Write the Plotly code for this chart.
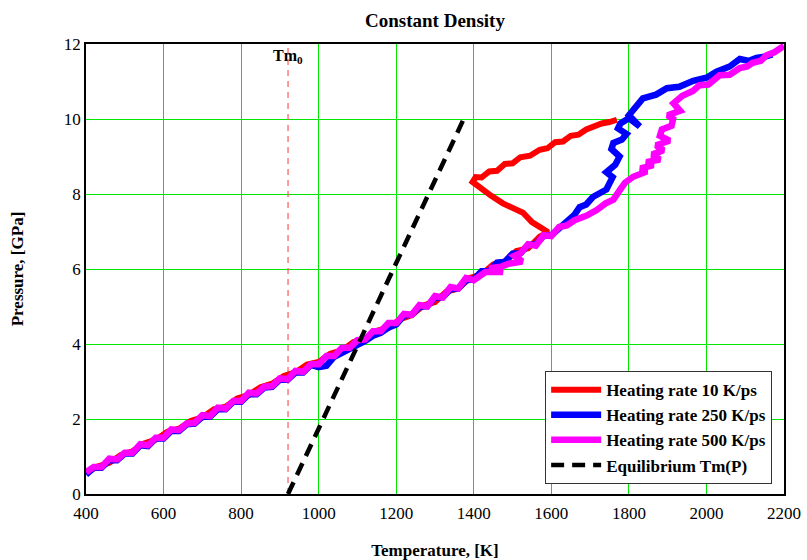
import plotly.graph_objects as go

# ---- data ----
red_T = [400, 430, 460, 490, 520, 550, 580, 610, 640, 670, 700, 730, 760, 790, 820, 850, 880, 910, 940, 970,
         1000, 1030, 1060, 1090, 1120, 1150, 1180, 1210, 1240, 1270, 1300, 1330, 1360, 1390, 1420, 1450, 1480,
         1510, 1540, 1570, 1592, 1575, 1550, 1527, 1500, 1475, 1445, 1415, 1397, 1405, 1420, 1440, 1460, 1480,
         1500, 1520, 1545, 1570, 1590, 1610, 1630, 1650, 1670, 1690, 1707, 1730, 1750, 1769]
red_P = [0.58, 0.73, 0.83, 1.04, 1.14, 1.35, 1.45, 1.66, 1.74, 1.95, 2.04, 2.26, 2.33, 2.55, 2.64, 2.85, 2.94,
         3.15, 3.24, 3.45, 3.52, 3.74, 3.83, 4.05, 4.13, 4.35, 4.43, 4.66, 4.77, 5.03, 5.12, 5.40, 5.48, 5.76,
         5.85, 6.12, 6.20, 6.48, 6.55, 6.86, 6.98, 7.10, 7.25, 7.50, 7.62, 7.75, 7.95, 8.18, 8.32, 8.45, 8.44,
         8.60, 8.62, 8.80, 8.82, 8.98, 9.02, 9.18, 9.22, 9.38, 9.40, 9.55, 9.58, 9.72, 9.79, 9.88, 9.92, 9.98]

blue_T = [400, 420, 440, 460, 480, 500, 520, 540, 560, 580, 600, 620, 640, 660, 680, 700, 720, 740, 760, 780,
          800, 820, 840, 860, 880, 900, 920, 940, 960, 980, 1000, 1020, 1040, 1060, 1080, 1100, 1120, 1140,
          1160, 1180, 1200, 1220, 1240, 1260, 1280, 1300, 1320, 1340, 1360, 1380, 1400, 1420, 1440, 1460,
          1480, 1500, 1520, 1540, 1560, 1580, 1600, 1620, 1640, 1660, 1673, 1690, 1707, 1725, 1742, 1758,
          1742, 1765, 1776, 1755, 1760, 1782, 1794, 1772, 1778, 1800, 1828, 1800, 1815, 1836, 1870, 1898,
          1930, 1966, 2000, 2026, 2060, 2086, 2110, 2129, 2150, 2170]
blue_P = [0.52, 0.70, 0.70, 0.90, 0.90, 1.08, 1.08, 1.30, 1.28, 1.48, 1.48, 1.68, 1.68, 1.86, 1.88, 2.06, 2.06,
          2.26, 2.26, 2.46, 2.46, 2.66, 2.66, 2.84, 2.86, 3.05, 3.05, 3.24, 3.24, 3.44, 3.38, 3.42, 3.66, 3.78,
          3.86, 3.98, 4.08, 4.22, 4.30, 4.44, 4.52, 4.76, 4.78, 4.99, 5.01, 5.23, 5.25, 5.46, 5.48, 5.70, 5.72,
          5.94, 5.95, 6.17, 6.19, 6.41, 6.42, 6.64, 6.66, 6.88, 6.90, 7.10, 7.25, 7.45, 7.65, 7.72, 7.92, 8.00,
          8.12, 8.45, 8.58, 8.78, 9.00, 9.20, 9.36, 9.45, 9.60, 9.75, 9.88, 10.02, 9.80, 10.10, 10.30, 10.55,
          10.65, 10.82, 10.86, 11.02, 11.10, 11.26, 11.40, 11.60, 11.55, 11.63, 11.66, 11.72]

mag_T = [400, 420, 440, 460, 480, 500, 520, 540, 560, 580, 600, 620, 640, 660, 680, 700, 720, 740, 760, 780,
         800, 820, 840, 860, 880, 900, 920, 940, 960, 980, 1000, 1020, 1040, 1060, 1080, 1100, 1120, 1140,
         1160, 1180, 1200, 1220, 1240, 1260, 1280, 1300, 1320, 1340, 1360, 1380, 1400, 1430, 1475, 1440,
         1470, 1490, 1525, 1505, 1520, 1540, 1560, 1580, 1600, 1620, 1640, 1660, 1690, 1717, 1740, 1760,
         1777, 1790, 1811, 1846, 1830, 1863, 1845, 1880, 1860, 1889, 1870, 1905, 1880, 1885, 1910, 1914,
         1900, 1932, 1915, 1938, 1965, 1982, 2005, 2034, 2060, 2086, 2105, 2119, 2140, 2155, 2175, 2189, 2200]
mag_P = [0.58, 0.72, 0.72, 0.94, 0.92, 1.10, 1.10, 1.33, 1.30, 1.50, 1.50, 1.72, 1.70, 1.88, 1.90, 2.10, 2.08,
         2.30, 2.28, 2.48, 2.48, 2.70, 2.68, 2.86, 2.88, 3.08, 3.06, 3.28, 3.26, 3.46, 3.46, 3.68, 3.68, 3.90,
         3.90, 4.10, 4.12, 4.34, 4.34, 4.56, 4.56, 4.80, 4.78, 5.04, 5.00, 5.28, 5.24, 5.52, 5.48, 5.76, 5.70,
         5.92, 5.92, 6.02, 6.06, 6.14, 6.20, 6.35, 6.42, 6.66, 6.62, 6.90, 6.88, 7.12, 7.16, 7.30, 7.42, 7.57,
         7.75, 7.85, 8.11, 8.30, 8.46, 8.60, 8.68, 8.77, 8.85, 8.92, 9.05, 9.17, 9.30, 9.42, 9.55, 9.72, 9.82,
         10.00, 10.10, 10.22, 10.42, 10.62, 10.75, 10.90, 10.92, 11.17, 11.18, 11.36, 11.40, 11.50, 11.55,
         11.70, 11.78, 11.90, 11.95]

eq_T = [921, 1147, 1374]
eq_P = [0.0, 5.0, 10.0]

tm0 = 921
x_ticks = [400, 600, 800, 1000, 1200, 1400, 1600, 1800, 2000, 2200]
y_ticks = [0, 2, 4, 6, 8, 10, 12]

SERIF = "Liberation Serif, Times New Roman, serif"

fig = go.Figure()
fig.add_trace(go.Scatter(x=[tm0, tm0], y=[0, 12], mode="lines", showlegend=False,
                         line=dict(color="#ff5a5a", width=1.2, dash="6px,5px"), hoverinfo="skip"))
fig.add_trace(go.Scatter(x=red_T, y=red_P, mode="lines", name="Heating rate 10 K/ps",
                         line=dict(color="#ff0000", width=6)))
fig.add_trace(go.Scatter(x=blue_T, y=blue_P, mode="lines", name="Heating rate 250 K/ps",
                         line=dict(color="#0000ff", width=6.5)))
fig.add_trace(go.Scatter(x=mag_T, y=mag_P, mode="lines", name="Heating rate 500 K/ps",
                         line=dict(color="#ff00ff", width=6.5)))
fig.add_trace(go.Scatter(x=eq_T, y=eq_P, mode="lines", name="Equilibrium Tm(P)",
                         line=dict(color="#000000", width=4.5, dash="13px,8px")))

fig.add_annotation(x=tm0, y=12, yref="y", xref="x", text="Tm<sub>0</sub>", showarrow=False,
                   yanchor="top", yshift=-1, font=dict(family=SERIF, size=16, color="black", weight="bold"))

axis_common = dict(showline=True, mirror=True, linecolor="black", linewidth=1.5,
                   showgrid=True, gridcolor="#00e800", gridwidth=1, zeroline=False, automargin=False,
                   ticks="", tickfont=dict(family=SERIF, size=17, color="black"))

fig.update_layout(
    width=807, height=560,
    margin=dict(l=86, r=23, t=44, b=66),
    paper_bgcolor="white", plot_bgcolor="white",
    title=dict(text="Constant Density", x=0.539, xanchor="center", y=0.963, yanchor="middle",
               font=dict(family=SERIF, size=19, color="black", weight="bold")),
    xaxis=dict(range=[400, 2200], tickvals=x_ticks, ticktext=[str(v) for v in x_ticks],
               ticklabelstandoff=3,
               title=dict(text="Temperature, [K]", standoff=30,
                          font=dict(family=SERIF, size=17, color="black", weight="bold")),
               **axis_common),
    yaxis=dict(range=[0, 12], tickvals=y_ticks, ticktext=[str(v) for v in y_ticks],
               title=dict(text="Pressure, [GPa]", standoff=36,
                          font=dict(family=SERIF, size=17, color="black", weight="bold")),
               **axis_common),
    legend=dict(x=0.983, y=0.022, xanchor="right", yanchor="bottom",
                bgcolor="white", bordercolor="#333333", borderwidth=1,
                font=dict(family=SERIF, size=17, color="black", weight="bold"),
                itemwidth=50, tracegroupgap=0),
    showlegend=True,
)

fig.write_html("out.html")
